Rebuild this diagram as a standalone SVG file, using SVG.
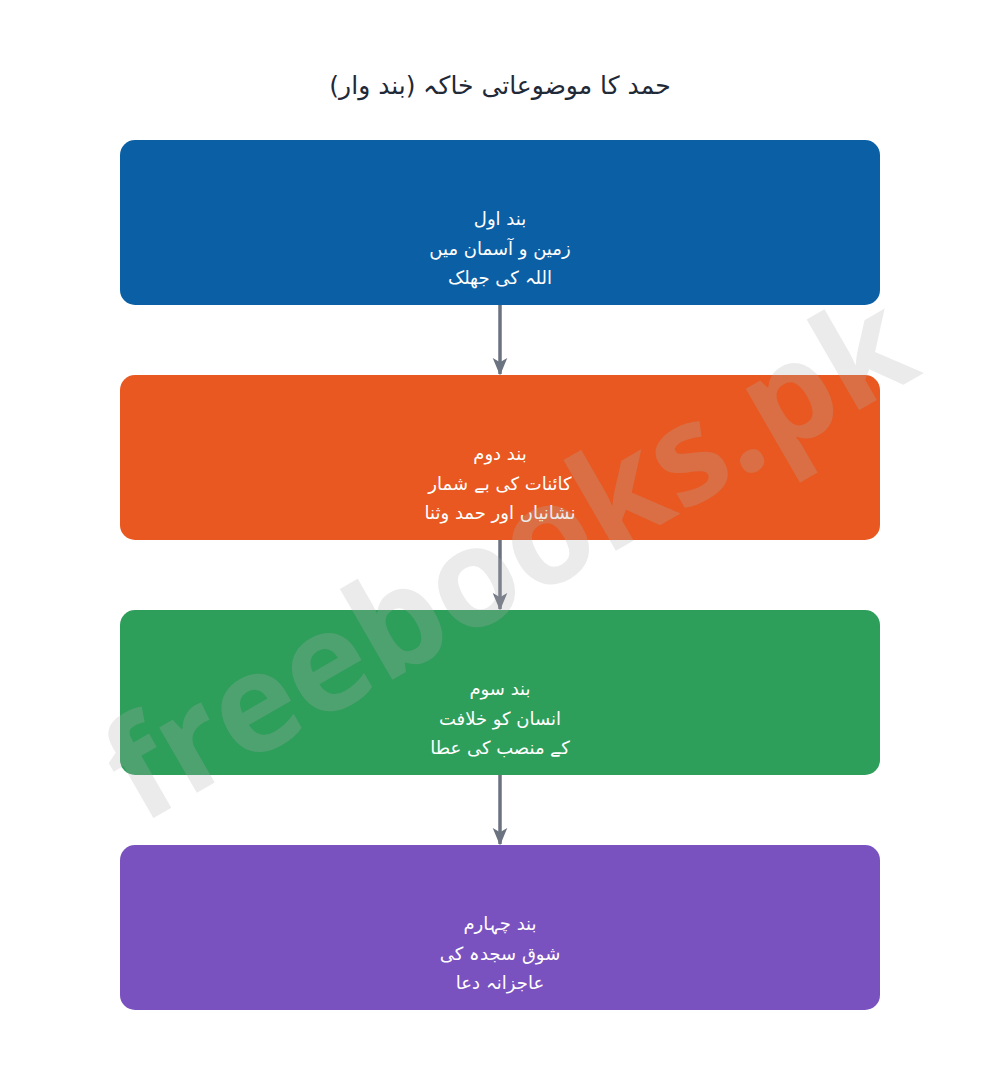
<svg xmlns="http://www.w3.org/2000/svg" width="1000" height="1070" viewBox="0 0 1000 1070">
<defs>
<style>
.title{font-family:"DejaVu Sans",sans-serif;font-size:25px;fill:#1f2937;text-anchor:middle;direction:rtl}
.lbl{font-family:"DejaVu Sans",sans-serif;font-size:18px;fill:#ffffff;text-anchor:middle;direction:rtl}
.box{stroke:none}
.edge{stroke:#6b7280;stroke-width:3.5;fill:none}
.wm{font-family:"Open Sans",sans-serif;font-weight:bold;font-size:138px;fill:#b0b0b0;fill-opacity:0.25;text-anchor:middle}
</style>
<marker id="arr" viewBox="0 0 12 10" refX="11" refY="5" markerWidth="5" markerHeight="4.5" markerUnits="strokeWidth" orient="auto">
<path d="M0,0 L12,5 L0,10 L3,5 Z" fill="#6b7280"/>
</marker>
</defs>
<rect width="1000" height="1070" fill="#ffffff"/>
<text class="title" x="500" y="94">حمد کا موضوعاتی خاکہ (بند وار)</text>
<g id="connectors">
<line class="edge" x1="500" y1="305" x2="500" y2="374" marker-end="url(#arr)"/>
<line class="edge" x1="500" y1="540" x2="500" y2="609" marker-end="url(#arr)"/>
<line class="edge" x1="500" y1="775" x2="500" y2="844" marker-end="url(#arr)"/>
</g>
<g id="node1">
<rect class="box" x="120" y="140" width="760" height="165" rx="15" fill="#0b5fa5"/>
<text class="lbl" x="500" y="225">بند اول</text>
<text class="lbl" x="500" y="255">زمین و آسمان میں</text>
<text class="lbl" x="500" y="284">اللہ کی جھلک</text>
</g>
<g id="node2">
<rect class="box" x="120" y="375" width="760" height="165" rx="15" fill="#e85820"/>
<text class="lbl" x="500" y="460">بند دوم</text>
<text class="lbl" x="500" y="490">کائنات کی بے شمار</text>
<text class="lbl" x="500" y="519">نشانیاں اور حمد وثنا</text>
</g>
<g id="node3">
<rect class="box" x="120" y="610" width="760" height="165" rx="15" fill="#2e9e5b"/>
<text class="lbl" x="500" y="695">بند سوم</text>
<text class="lbl" x="500" y="725">انسان کو خلافت</text>
<text class="lbl" x="500" y="754">کے منصب کی عطا</text>
</g>
<g id="node4">
<rect class="box" x="120" y="845" width="760" height="165" rx="15" fill="#7a52c0"/>
<text class="lbl" x="500" y="930">بند چہارم</text>
<text class="lbl" x="500" y="960">شوق سجدہ کی</text>
<text class="lbl" x="500" y="989">عاجزانہ دعا</text>
</g>
<text class="wm" x="510" y="605" transform="rotate(-30 510 560)">freebooks.pk</text>
</svg>
